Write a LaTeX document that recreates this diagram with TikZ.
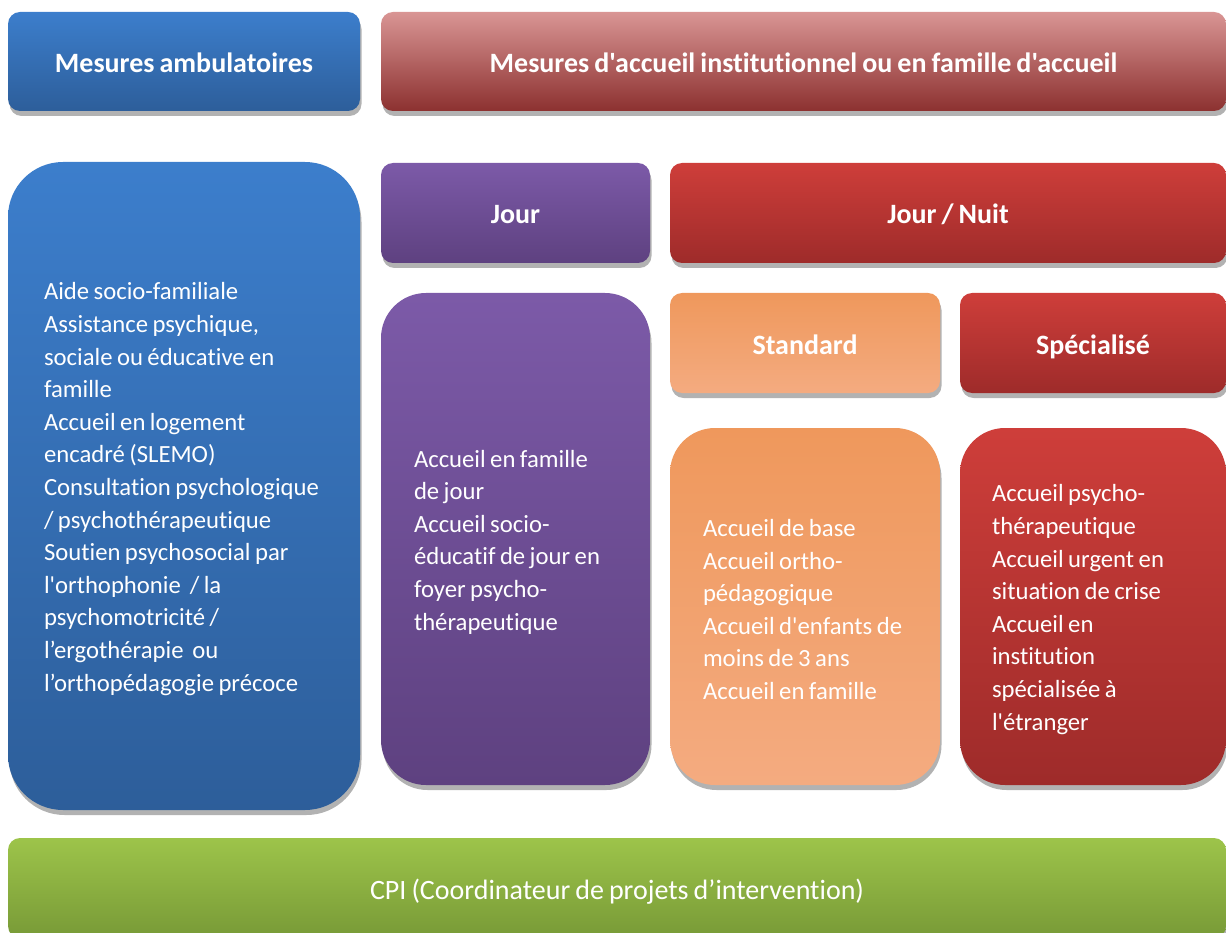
\documentclass[tikz,border=0pt]{standalone}
\usepackage{fontspec}
\setmainfont{Carlito}[Ligatures={TeXOff,CommonOff},WordSpace=0.8]
\usetikzlibrary{shadows}

\definecolor{bluetop}{HTML}{3C7ECC}
\definecolor{bluebot}{HTML}{2D5E9A}
\definecolor{pinktop}{HTML}{D99594}
\definecolor{redmid}{HTML}{C0504D}
\definecolor{redbot}{HTML}{8C3130}
\definecolor{purptop}{HTML}{7C5AA8}
\definecolor{purpbot}{HTML}{5E4180}
\definecolor{crimtop}{HTML}{CE3E3A}
\definecolor{crimbot}{HTML}{9E2B2A}
\definecolor{orgtop}{HTML}{EF985C}
\definecolor{orgbot}{HTML}{F4AB80}
\definecolor{grntop}{HTML}{9DC44A}
\definecolor{grnbot}{HTML}{789A37}

\tikzset{
  box/.style={rounded corners=12pt, text=white, inner sep=0pt,
    drop shadow={shadow xshift=1.5pt, shadow yshift=-5pt, opacity=.3, fill=black}},
  head/.style={box, font=\bfseries\fontsize{28}{33}\selectfont, text height=24pt, text depth=2pt},
  listtext/.style={anchor=west, inner sep=0pt, text=white, align=left, font=\fontsize{24.7}{32.6}\selectfont},
  blueshade/.style={top color=bluetop, bottom color=bluebot},
  pinkshade/.style={top color=pinktop, middle color=redmid, bottom color=redbot},
  purpshade/.style={top color=purptop, bottom color=purpbot},
  crimshade/.style={top color=crimtop, bottom color=crimbot},
  orgshade/.style={top color=orgtop, bottom color=orgbot},
  grnshade/.style={top color=grntop, bottom color=grnbot},
}

\begin{document}
\begin{tikzpicture}[x=1pt,y=-1pt]
  \useasboundingbox (0,0) rectangle (1226,933);

  % headers
  \node[head,blueshade,minimum width=352pt,minimum height=99pt] (amb) at (184,61.5) {Mesures ambulatoires};
  \node[head,pinkshade,minimum width=845pt,minimum height=99pt] (inst) at (803.5,61.5) {Mesures d'accueil institutionnel ou en famille d'accueil};

  \node[head,purpshade,minimum width=269pt,minimum height=100pt] (jour) at (515.5,213) {Jour};
  \node[head,crimshade,minimum width=556pt,minimum height=100pt] (nuit) at (948,213) {Jour / Nuit};
  \node[head,orgshade,minimum width=270pt,minimum height=100pt] (std) at (805,343) {Standard};
  \node[head,crimshade,minimum width=266pt,minimum height=100pt] (spec) at (1093,343) {Spécialisé};

  % list boxes
  \node[box,blueshade,rounded corners=55pt,minimum width=352pt,minimum height=648pt] (ambl) at (184,486) {};
  \node[box,purpshade,rounded corners=45pt,minimum width=269pt,minimum height=492pt] (jourl) at (515.5,539) {};
  \node[box,orgshade,rounded corners=45pt,minimum width=270pt,minimum height=357pt] (stdl) at (805,606.5) {};
  \node[box,crimshade,rounded corners=45pt,minimum width=266pt,minimum height=357pt] (specl) at (1093,606.5) {};

  % list texts
  \node[listtext] (amblt) at ([xshift=36pt,yshift=-3pt]ambl.west)
    {Aide socio-familiale\\ Assistance psychique,\\ sociale ou éducative en\\ famille\\
     Accueil en logement\\ encadré (SLEMO)\\ Consultation psychologique\\ / psychothérapeutique\\
     Soutien psychosocial par\\ l'orthophonie~ / la\\ psychomotricité /\\ l’ergothérapie~ ou\\
     l’orthopédagogie précoce};
  \node[listtext] (jourlt) at ([xshift=33pt,yshift=-3pt]jourl.west)
    {Accueil en famille\\ de jour\\ Accueil socio-\\ éducatif de jour en\\ foyer psycho-\\ thérapeutique};
  \node[listtext] (stdlt) at ([xshift=33pt,yshift=-3pt]stdl.west)
    {Accueil de base\\ Accueil ortho-\\ pédagogique\\ Accueil d'enfants de\\ moins de 3 ans\\ Accueil en famille};
  \node[listtext] (speclt) at ([xshift=32pt,yshift=-3pt]specl.west)
    {Accueil psycho-\\ thérapeutique\\ Accueil urgent en\\ situation de crise\\ Accueil en\\ institution\\ spécialisée à\\ l'étranger};

  % footer
  \node[box,grnshade,font=\fontsize{28}{33}\selectfont,text height=24pt,text depth=2pt,
        minimum width=1218pt,minimum height=100pt] (cpi) at (617,888)
    {CPI (Coordinateur de projets d’intervention)};
\end{tikzpicture}
\end{document}
